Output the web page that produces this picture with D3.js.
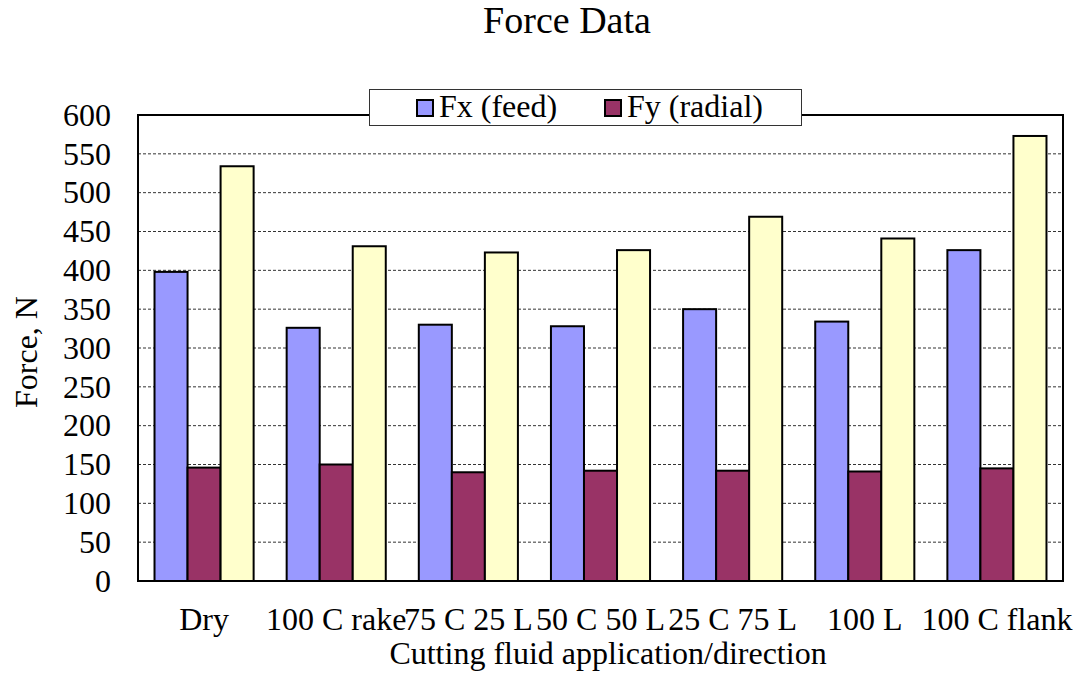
<!DOCTYPE html>
<html>
<head>
<meta charset="utf-8">
<script src="https://cdn.jsdelivr.net/npm/d3@7"></script>
<style>
  html, body { margin: 0; padding: 0; background: #fff; }
  svg { display: block; }
  text { font-family: "Liberation Serif", "Times New Roman", serif; fill: #000; }
</style>
</head>
<body>
<svg id="chart" width="1076" height="675"></svg>
<script>
const categories = ["Dry", "100 C rake", "75 C 25 L", "50 C 50 L", "25 C 75 L", "100 L", "100 C flank"];
const fxFeed   = [398, 326, 330, 328, 350, 334, 426];
const fyRadial = [146, 150, 140, 142, 142, 141, 145];
const fzThird  = [534, 431, 423, 426, 469, 441, 573];
const yTicks = [0, 50, 100, 150, 200, 250, 300, 350, 400, 450, 500, 550, 600];
const seriesNames = ["Fx (feed)", "Fy (radial)", "Fz"];
const legendNames = ["Fx (feed)", "Fy (radial)"];
const colors = ["#9999FF", "#993366", "#FFFFCC"];

const seriesValues = [fxFeed, fyRadial, fzThird];
const rows = categories.map((c, i) => ({ cat: c, vals: seriesValues.map(s => s[i]) }));

const svg = d3.select("#chart");
const plot = { left: 138, right: 1063, top: 115, bottom: 581 };
const FONT = "Liberation Serif, Times New Roman, serif";

const x0 = d3.scaleBand().domain(categories).range([plot.left, plot.right])
  .paddingInner(0.25).paddingOuter(0.125);
const x1 = d3.scaleBand().domain(d3.range(seriesNames.length)).range([0, x0.bandwidth()]);
const y = d3.scaleLinear().domain([0, 600]).range([plot.bottom, plot.top]);

// gridlines
svg.append("g").selectAll("line").data(yTicks.filter(t => t > 0 && t < 600)).join("line")
  .attr("x1", plot.left).attr("x2", plot.right)
  .attr("y1", d => y(d)).attr("y2", d => y(d))
  .attr("stroke", "#333").attr("stroke-width", 1).attr("stroke-dasharray", "3,2");

// bars
const groups = svg.append("g").selectAll("g").data(rows).join("g")
  .attr("transform", d => `translate(${x0(d.cat)},0)`);
groups.selectAll("rect").data(d => d.vals.map((v, i) => ({ v, i }))).join("rect")
  .attr("x", d => x1(d.i)).attr("width", x1.bandwidth())
  .attr("y", d => y(d.v)).attr("height", d => y(0) - y(d.v))
  .attr("fill", d => colors[d.i]).attr("stroke", "#000").attr("stroke-width", 2);

// plot border
svg.append("rect").attr("x", plot.left).attr("y", plot.top)
  .attr("width", plot.right - plot.left).attr("height", plot.bottom - plot.top)
  .attr("fill", "none").attr("stroke", "#000").attr("stroke-width", 2);

// y axis
const yAxis = svg.append("g").attr("transform", `translate(${plot.left},0)`)
  .call(d3.axisLeft(y).tickValues(yTicks).tickSize(0).tickPadding(27));
yAxis.select(".domain").remove();
yAxis.selectAll("text").style("font-size", "32px").style("font-family", FONT);

// x axis labels
const xAxis = svg.append("g").attr("transform", `translate(0,${plot.bottom})`)
  .call(d3.axisBottom(x0).tickSize(0).tickPadding(0));
xAxis.select(".domain").remove();
xAxis.selectAll("text").attr("y", 49).attr("dy", 0)
  .style("font-size", "32px").style("font-family", FONT);

// axis titles
svg.append("text").attr("x", 608).attr("y", 664).attr("text-anchor", "middle")
  .style("font-size", "32px").style("font-family", FONT).text("Cutting fluid application/direction");
svg.append("text").attr("transform", "translate(37,352) rotate(-90)").attr("text-anchor", "middle")
  .style("font-size", "32px").style("font-family", FONT).text("Force, N");

// title
svg.append("text").attr("x", 567).attr("y", 33).attr("text-anchor", "middle")
  .style("font-size", "38px").style("font-family", FONT).text("Force Data");

// legend
const lg = svg.append("g");
lg.append("rect").attr("x", 369.5).attr("y", 89.5).attr("width", 432).attr("height", 36)
  .attr("fill", "#fff").attr("stroke", "#333").attr("stroke-width", 1);
const legendX = [417, 605];
legendNames.forEach((name, i) => {
  lg.append("rect").attr("x", legendX[i]).attr("y", 100).attr("width", 16).attr("height", 16)
    .attr("fill", colors[i]).attr("stroke", "#000").attr("stroke-width", 2);
  lg.append("text").attr("x", legendX[i] + 22).attr("y", 117)
    .style("font-size", "32px").style("font-family", FONT).text(name);
});
</script>
</body>
</html>
